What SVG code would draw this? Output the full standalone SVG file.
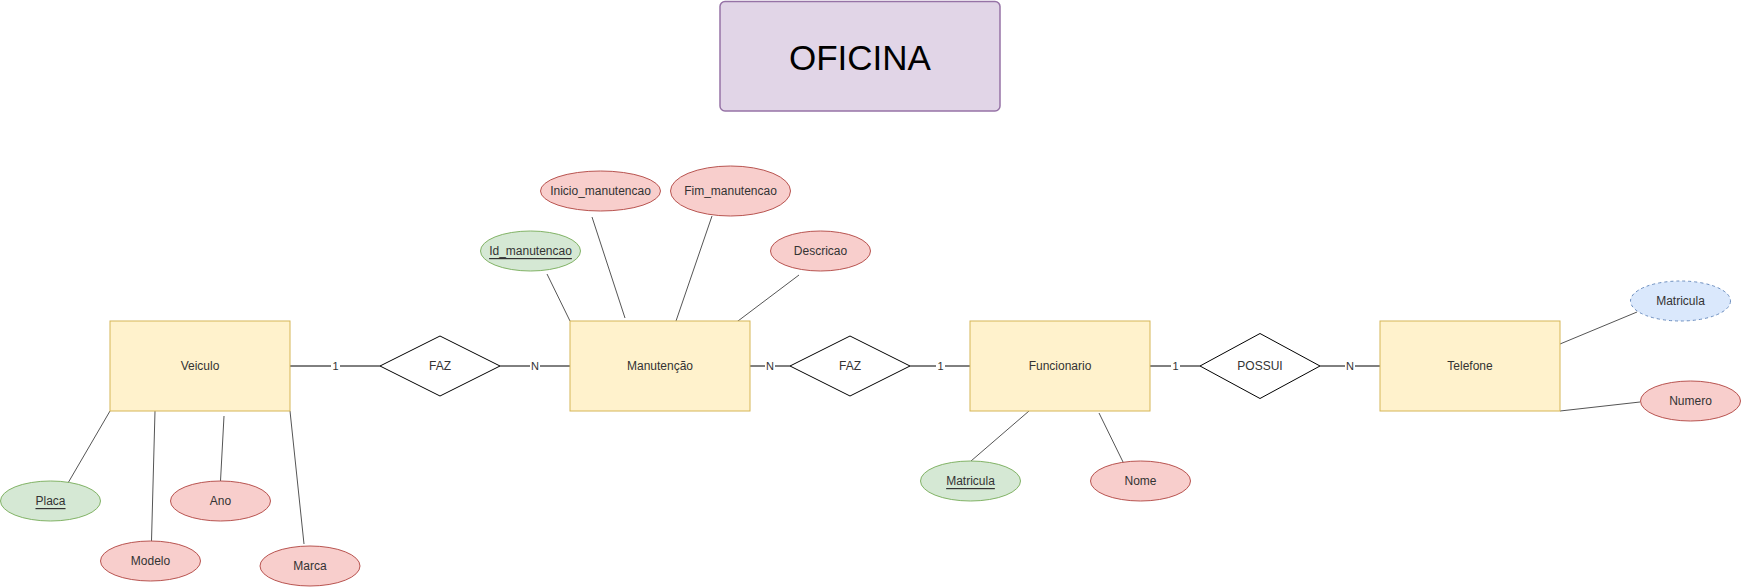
<svg xmlns="http://www.w3.org/2000/svg" width="1741" height="587" viewBox="0 0 1741 587">
<style>
text{font-family:"Liberation Sans",Arial,sans-serif;font-size:12px;fill:#333;text-anchor:middle;dominant-baseline:central}
.ent{fill:#fff2cc;stroke:#d6b656;stroke-width:1}
.rel{fill:#fff;stroke:#000;stroke-width:1}
.att{fill:#f8cecc;stroke:#b85450;stroke-width:1}
.key{fill:#d5e8d4;stroke:#82b366;stroke-width:1}
.mv{fill:#dae8fc;stroke:#6c8ebf;stroke-width:1;stroke-dasharray:3 3}
.e{stroke:#000;stroke-width:1;fill:none}
.a{stroke:#555;stroke-width:1;fill:none}
.lbl{font-size:11px;fill:#333}
.u{text-decoration:underline}
</style>
<rect width="1741" height="587" fill="#fff"/>
<g id="connectors">
<line class="e" x1="290" y1="366" x2="380" y2="366"/>
<line class="e" x1="500" y1="366" x2="570" y2="366"/>
<line class="e" x1="750" y1="366" x2="790" y2="366"/>
<line class="e" x1="910" y1="366" x2="970" y2="366"/>
<line class="e" x1="1150" y1="366" x2="1200" y2="366"/>
<line class="e" x1="1320" y1="366" x2="1380" y2="366"/>
<rect x="331" y="359" width="9" height="14" fill="#fff"/><text class="lbl" x="335.5" y="366">1</text>
<rect x="530" y="359" width="10" height="14" fill="#fff"/><text class="lbl" x="535" y="366">N</text>
<rect x="765" y="359" width="10" height="14" fill="#fff"/><text class="lbl" x="770" y="366">N</text>
<rect x="936" y="359" width="9" height="14" fill="#fff"/><text class="lbl" x="940.5" y="366">1</text>
<rect x="1171" y="359" width="9" height="14" fill="#fff"/><text class="lbl" x="1175.5" y="366">1</text>
<rect x="1345" y="359" width="10" height="14" fill="#fff"/><text class="lbl" x="1350" y="366">N</text>
<line class="a" x1="110" y1="411" x2="68" y2="483"/>
<line class="a" x1="155" y1="411" x2="151.5" y2="541"/>
<line class="a" x1="224" y1="416" x2="220.5" y2="481"/>
<line class="a" x1="290" y1="411" x2="304" y2="544"/>
<line class="a" x1="547" y1="274" x2="570" y2="321"/>
<line class="a" x1="592" y1="217" x2="625" y2="318"/>
<line class="a" x1="712" y1="216" x2="676" y2="321"/>
<line class="a" x1="799" y1="275" x2="734" y2="324"/>
<line class="a" x1="1029" y1="411" x2="971" y2="461"/>
<line class="a" x1="1099" y1="413" x2="1124" y2="464"/>
<line class="a" x1="1560" y1="344" x2="1637" y2="312"/>
<line class="a" x1="1560" y1="411" x2="1640" y2="402"/>
</g>
<g id="title"><rect x="720" y="1.5" width="280" height="109.5" rx="5" fill="#e1d5e7" stroke="#9673a6" stroke-width="1.5"/><text x="860" y="57" style="font-size:35px;fill:#000">OFICINA</text></g>
<g id="veiculo"><rect class="ent" x="110" y="321" width="180" height="90"/><text x="200" y="366">Veiculo</text></g>
<g id="manutencao"><rect class="ent" x="570" y="321" width="180" height="90"/><text x="660" y="366">Manutenção</text></g>
<g id="funcionario"><rect class="ent" x="970" y="321" width="180" height="90"/><text x="1060" y="366">Funcionario</text></g>
<g id="telefone"><rect class="ent" x="1380" y="321" width="180" height="90"/><text x="1470" y="366">Telefone</text></g>
<g id="faz1"><polygon class="rel" points="380,366 440,336 500,366 440,396"/><text x="440" y="366">FAZ</text></g>
<g id="faz2"><polygon class="rel" points="790,366 850,336 910,366 850,396"/><text x="850" y="366">FAZ</text></g>
<g id="possui"><polygon class="rel" points="1200,366 1260,333.5 1320,366 1260,398.5"/><text x="1260" y="366">POSSUI</text></g>
<g id="placa"><ellipse class="key" cx="50.5" cy="501" rx="50" ry="20"/><text class="u" x="50.5" y="501">Placa</text></g>
<g id="modelo"><ellipse class="att" cx="150.5" cy="561" rx="50" ry="20"/><text x="150.5" y="561">Modelo</text></g>
<g id="ano"><ellipse class="att" cx="220.5" cy="501" rx="50" ry="20"/><text x="220.5" y="501">Ano</text></g>
<g id="marca"><ellipse class="att" cx="310" cy="566" rx="50" ry="20"/><text x="310" y="566">Marca</text></g>
<g id="id_manutencao"><ellipse class="key" cx="530.5" cy="251" rx="50" ry="20"/><text class="u" x="530.5" y="251">Id_manutencao</text></g>
<g id="inicio_manutencao"><ellipse class="att" cx="600.5" cy="191" rx="60" ry="20"/><text x="600.5" y="191">Inicio_manutencao</text></g>
<g id="fim_manutencao"><ellipse class="att" cx="730.5" cy="191" rx="60" ry="25"/><text x="730.5" y="191">Fim_manutencao</text></g>
<g id="descricao"><ellipse class="att" cx="820.5" cy="251" rx="50" ry="20"/><text x="820.5" y="251">Descricao</text></g>
<g id="matricula_func"><ellipse class="key" cx="970.5" cy="481" rx="50" ry="20"/><text class="u" x="970.5" y="481">Matricula</text></g>
<g id="nome"><ellipse class="att" cx="1140.5" cy="481" rx="50" ry="20"/><text x="1140.5" y="481">Nome</text></g>
<g id="matricula_tel"><ellipse class="mv" cx="1680.5" cy="301" rx="50" ry="20"/><text x="1680.5" y="301">Matricula</text></g>
<g id="numero"><ellipse class="att" cx="1690.5" cy="401" rx="50" ry="20"/><text x="1690.5" y="401">Numero</text></g>
</svg>
